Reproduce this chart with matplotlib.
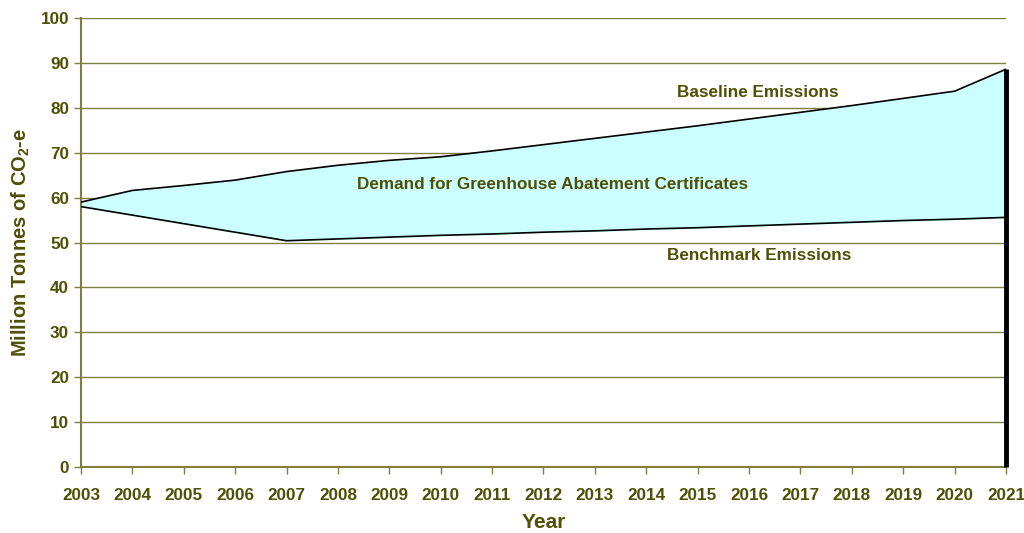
import matplotlib
matplotlib.use("Agg")
import matplotlib.pyplot as plt

plt.rcParams['mathtext.fontset'] = 'custom'
plt.rcParams['mathtext.rm'] = 'Liberation Sans:bold'
plt.rcParams['mathtext.bf'] = 'Liberation Sans:bold'
plt.rcParams['mathtext.it'] = 'Liberation Sans:bold'

years = list(range(2003, 2022))
baseline = [59.0, 61.6, 62.7, 63.9, 65.8, 67.2, 68.3, 69.1, 70.4, 71.8, 73.2, 74.6,
            76.0, 77.5, 79.0, 80.5, 82.1, 83.7, 88.6]
benchmark = [58.0, 56.1, 54.2, 52.3, 50.4, 50.8, 51.2, 51.6, 51.9, 52.3, 52.6, 53.0,
             53.3, 53.7, 54.1, 54.5, 54.9, 55.2, 55.6]
yticks = list(range(0, 101, 10))

txt = '#4F4F05'
grid = '#7F7F40'
fill = '#CCFFFF'

fig = plt.figure(figsize=(10.24, 5.33), dpi=100)
ax = fig.add_axes([0.0791, 0.1238, 0.9033, 0.8424])

ax.fill_between(years, benchmark, baseline, color=fill, zorder=2)
ax.plot(years, baseline, color='black', lw=1.2, zorder=3)
ax.plot(years, benchmark, color='black', lw=1.2, zorder=3)
ax.plot([years[-1], years[-1]], [0, baseline[-1]], color='black', lw=3.5, zorder=4,
        solid_capstyle='butt', clip_on=False)

ax.set_xlim(years[0], years[-1])
ax.set_ylim(0, 100)
ax.set_xticks(years)
ax.set_yticks(yticks)
ax.yaxis.grid(True, color=grid, lw=1)
ax.set_axisbelow(True)
for s in ['top', 'right']:
    ax.spines[s].set_visible(False)
for s in ['left', 'bottom']:
    ax.spines[s].set_color(grid)
    ax.spines[s].set_linewidth(1.5)
ax.tick_params(axis='both', colors=grid, labelcolor=txt, length=5, width=1)
ax.tick_params(axis='x', pad=10)
for lab in ax.get_xticklabels() + ax.get_yticklabels():
    lab.set_fontweight('bold')
    lab.set_fontsize(12.3)
    lab.set_family('Liberation Sans')

ax.set_xlabel('Year', fontsize=15, fontweight='bold', color=txt, family='Liberation Sans', labelpad=7)
ax.set_ylabel('Million Tonnes of CO$_2$-e', fontsize=14.5, fontweight='bold', color=txt,
              family='Liberation Sans', labelpad=6)

ax.text(2016.17, 83.5, 'Baseline Emissions', ha='center', va='center', fontsize=12.3,
        fontweight='bold', color=txt, family='Liberation Sans', zorder=5)
ax.text(2012.18, 63.0, 'Demand for Greenhouse Abatement Certificates', ha='center', va='center',
        fontsize=12.3, fontweight='bold', color=txt, family='Liberation Sans', zorder=5)
ax.text(2016.19, 47.0, 'Benchmark Emissions', ha='center', va='center', fontsize=12.3,
        fontweight='bold', color=txt, family='Liberation Sans', zorder=5)

fig.savefig('out.png', dpi=100)
